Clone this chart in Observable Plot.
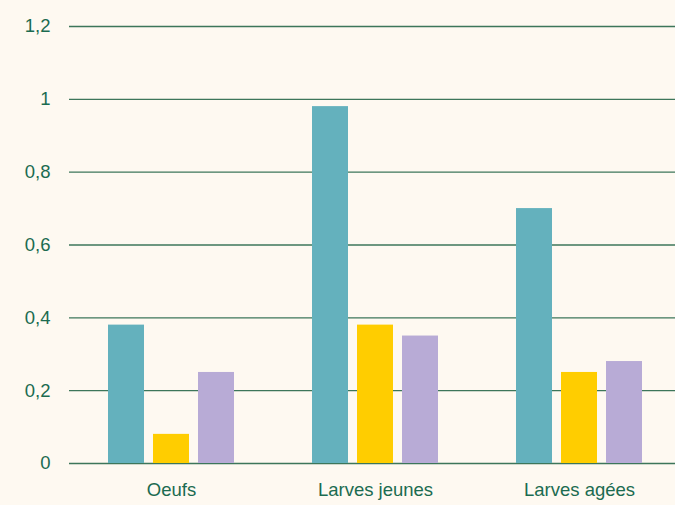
<!DOCTYPE html>
<html>
<head>
<meta charset="utf-8">
<script src="https://cdn.jsdelivr.net/npm/d3@7"></script>
<script src="https://cdn.jsdelivr.net/npm/@observablehq/plot@0.6"></script>
<style>
  html, body { margin: 0; padding: 0; background: #fef9f1; }
</style>
</head>
<body>
<div id="chart"></div>
<script>
const categories = ["Oeufs", "Larves jeunes", "Larves agées"];
const series = ["Série 1", "Série 2", "Série 3"];
const serie1 = [0.38, 0.98, 0.70];
const serie2 = [0.08, 0.38, 0.25];
const serie3 = [0.25, 0.35, 0.28];
const yTicks = [0, 0.2, 0.4, 0.6, 0.8, 1, 1.2];
const yTickLabels = ["0", "0,2", "0,4", "0,6", "0,8", "1", "1,2"];
const colors = ["#64b1bd", "#ffcd00", "#b8abd6"];

const valuesBySeries = [serie1, serie2, serie3];
const data = [];
categories.forEach((c, i) => {
  series.forEach((s, j) => {
    data.push({cat: c, serie: s, value: valuesBySeries[j][i]});
  });
});

const chart = Plot.plot({
  width: 675,
  height: 505,
  marginLeft: 69,
  marginRight: 0,
  marginTop: 26,
  marginBottom: 42,
  style: {
    background: "#fef9f1",
    fontFamily: "'Liberation Sans', Arial, sans-serif",
    fontSize: "18.5px",
    color: "#1b6b50"
  },
  fx: {
    domain: categories,
    range: [69, 681],
    padding: 0,
    label: null,
    axis: "bottom",
    tickSize: 0,
    tickPadding: 19
  },
  x: {domain: series, axis: null, paddingInner: 0.19, paddingOuter: 0.85},
  y: {
    domain: [0, 1.2],
    ticks: yTicks,
    tickFormat: d => yTickLabels[yTicks.indexOf(d)],
    tickSize: 0,
    tickPadding: 19,
    label: null
  },
  color: {domain: series, range: colors},
  marks: [
    Plot.ruleY(yTicks, {stroke: "#3d765a", strokeWidth: 1.4}),
    Plot.barY(data, {fx: "cat", x: "serie", y: "value", fill: "serie"})
  ]
});
document.getElementById("chart").append(chart);
</script>
</body>
</html>
